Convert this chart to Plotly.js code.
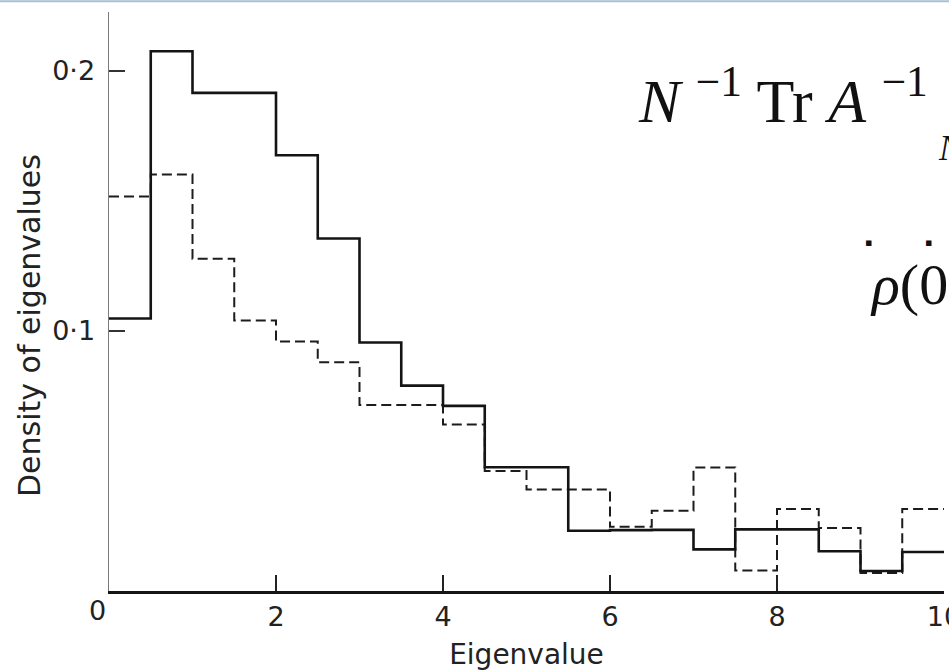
<!DOCTYPE html>
<html>
<head>
<meta charset="utf-8">
<script src="https://cdn.plot.ly/plotly-3.0.1.min.js"></script>
<style>
  html, body { margin: 0; padding: 0; background: #ffffff; }
  #chart { width: 949px; height: 671px; }
</style>
</head>
<body>
<div id="chart"></div>
<script>
// Bin edges of the histograms (eigenvalue)
const binEdges = [0, 0.5, 1, 1.5, 2, 2.5, 3, 3.5, 4, 4.5, 5, 5.5, 6, 6.5, 7, 7.5, 8, 8.5, 9, 9.5, 10];
// Solid histogram: density per bin
const solidDensity = [0.1048, 0.2076, 0.1916, 0.1916, 0.1676, 0.1356, 0.0956, 0.0790, 0.0712, 0.0476,
                      0.0476, 0.0232, 0.0234, 0.0235, 0.0160, 0.0237, 0.0237, 0.0153, 0.0077, 0.0150];
// Dashed histogram: density per bin
const dashedDensity = [0.1517, 0.1602, 0.1278, 0.1040, 0.0960, 0.0880, 0.0715, 0.0715, 0.0640, 0.0462,
                       0.0390, 0.0390, 0.0247, 0.0309, 0.0475, 0.0079, 0.0315, 0.0242, 0.0069, 0.0315];
// Axis ticks
const xTickVals = [2, 4, 6, 8, 10];
const xTickText = ['2', '4', '6', '8', '10'];
const yTickVals = [0.1, 0.2];
const yTickText = ['0·1', '0·2'];

function stepY(arr) { return arr.concat([arr[arr.length - 1]]); }

const traces = [
  {
    type: 'scatter', mode: 'lines', name: 'dashed',
    x: binEdges, y: stepY(dashedDensity),
    line: { shape: 'hv', color: '#1c1c1c', width: 2, dash: '10px,5px' },
    hoverinfo: 'skip', showlegend: false
  },
  {
    type: 'scatter', mode: 'lines', name: 'solid',
    x: binEdges, y: stepY(solidDensity),
    line: { shape: 'hv', color: '#141414', width: 2.6 },
    hoverinfo: 'skip', showlegend: false
  }
];

const sans = 'DejaVu Sans, sans-serif';
const tickFont = { family: sans, size: 27, color: '#222' };
const serif = 'Liberation Serif, Times New Roman, serif';

// plot area: left 109, right 944 (835 px wide); top 12, bottom 591 (579 px tall)
function px2paperX(px) { return (px - 109) / 835; }
function px2paperY(py) { return (591 - py) / 579; }

const layout = {
  width: 949, height: 671,
  paper_bgcolor: '#ffffff', plot_bgcolor: '#ffffff',
  margin: { l: 109, r: 5, t: 12, b: 80 },
  showlegend: false,
  xaxis: {
    range: [0, 10], showgrid: false, zeroline: false,
    showline: true, linecolor: '#151515', linewidth: 2.5,
    ticks: 'inside', ticklen: 16, tickwidth: 2, tickcolor: '#222',
    tickvals: xTickVals, ticktext: xTickText, tickfont: tickFont,
    ticklabeloverflow: 'allow',
    title: { text: 'Eigenvalue', font: { family: sans, size: 28, color: '#222' }, standoff: 15 },
    fixedrange: true
  },
  yaxis: {
    range: [0, 0.2227], showgrid: false, zeroline: false,
    showline: true, linecolor: '#7a7a7a', linewidth: 1.5,
    ticks: 'inside', ticklen: 16, tickwidth: 2, tickcolor: '#333',
    tickvals: yTickVals, ticktext: yTickText, tickfont: tickFont,
    ticklabelstandoff: 7,
    fixedrange: true
  },
  shapes: [
    { type: 'line', xref: 'paper', yref: 'paper', x0: -0.14, x1: 1.01, y0: 1.0185, y1: 1.0185,
      line: { color: '#a9bed5', width: 2 } }
  ],
  annotations: [
    { xref: 'paper', yref: 'paper', x: px2paperX(29), y: px2paperY(326), xanchor: 'center', yanchor: 'middle',
      textangle: -90, text: 'Density of eigenvalues', showarrow: false,
      font: { family: sans, size: 30, color: '#222' } },
    { xref: 'paper', yref: 'paper', x: px2paperX(97), y: px2paperY(593), xanchor: 'center', yanchor: 'top',
      text: '0', showarrow: false, font: tickFont },
    { xref: 'paper', yref: 'paper', x: px2paperX(636), y: px2paperY(96), xanchor: 'left', yanchor: 'middle',
      text: '<i>N</i> <sup>−1</sup> Tr <i>A</i> <sup>−1</sup>', showarrow: false,
      font: { family: serif, size: 62, color: '#111' } },
    { xref: 'paper', yref: 'paper', x: px2paperX(936), y: px2paperY(148), xanchor: 'left', yanchor: 'middle',
      text: '<i>N</i>', showarrow: false, font: { family: serif, size: 36, color: '#111' } },
    { xref: 'paper', yref: 'paper', x: px2paperX(868), y: px2paperY(284), xanchor: 'left', yanchor: 'middle',
      text: '<i>ρ</i>(0)', showarrow: false, font: { family: serif, size: 58, color: '#111' } },
    { xref: 'paper', yref: 'paper', x: px2paperX(868), y: px2paperY(243), xanchor: 'center', yanchor: 'middle',
      text: '▪', showarrow: false, font: { family: 'DejaVu Sans', size: 11, color: '#111' } },
    { xref: 'paper', yref: 'paper', x: px2paperX(928), y: px2paperY(243), xanchor: 'center', yanchor: 'middle',
      text: '▪', showarrow: false, font: { family: 'DejaVu Sans', size: 11, color: '#111' } }
  ]
};

Plotly.newPlot('chart', traces, layout, { displayModeBar: false, staticPlot: true });
</script>
</body>
</html>
